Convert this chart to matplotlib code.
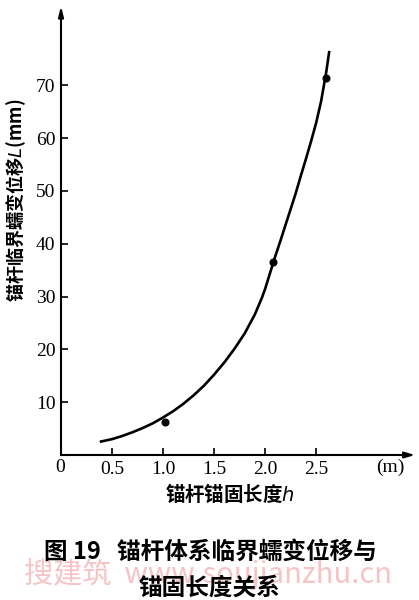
import matplotlib
matplotlib.use("Agg")
import matplotlib.pyplot as plt

# curve (anchor length h in m, creep displacement L in mm)
curve_h = [0.38, 0.5, 0.6, 0.7, 0.8, 0.9, 1.0, 1.1, 1.2, 1.3, 1.4, 1.5, 1.6, 1.7, 1.8, 1.9,
           1.97, 2.0, 2.05, 2.1, 2.15, 2.2, 2.25, 2.3, 2.35, 2.4, 2.45, 2.5, 2.55, 2.6, 2.63]
curve_L = [2.5, 3.0, 3.6, 4.3, 5.1, 6.0, 7.1, 8.3, 9.7, 11.3, 13.1, 15.2, 17.5, 20.1, 23.0, 26.6,
           29.8, 31.4, 34.5, 37.6, 40.5, 43.5, 46.5, 49.5, 52.8, 56.0, 59.3, 62.8, 67.0, 72.5, 76.5]
# measured points
pts_h = [1.02, 2.08, 2.6]
pts_L = [6.3, 36.5, 71.3]

xticks = [0.5, 1.0, 1.5, 2.0, 2.5]
yticks = [10, 20, 30, 40, 50, 60, 70]

num_font = ["Liberation Serif", "Noto Sans CJK SC"]
cjk_font = ["Noto Sans CJK SC", "DejaVu Sans"]

fig = plt.figure(figsize=(4.19, 6.0), dpi=100)
ax = fig.add_axes([61 / 419, 145 / 600, 354 / 419, 449 / 600])
ax.set_xlim(0, 3.47)
ax.set_ylim(0, 85)

ax.plot(curve_h, curve_L, color="black", lw=1.9, solid_capstyle="butt", solid_joinstyle="round")
ax.plot(pts_h, pts_L, "o", color="black", ms=4.8)

for s in ["top", "right", "left", "bottom"]:
    ax.spines[s].set_visible(False)
# axes with arrows
ax.annotate("", xy=(3.47, 0), xytext=(0, 0),
            arrowprops=dict(arrowstyle="-|>,head_length=0.6,head_width=0.18", color="black", lw=1.5,
                            shrinkA=0, shrinkB=0))
ax.annotate("", xy=(0, 85), xytext=(0, 0),
            arrowprops=dict(arrowstyle="-|>,head_length=0.6,head_width=0.15", color="black", lw=1.5,
                            shrinkA=0, shrinkB=0))

ax.set_xticks(xticks)
ax.set_xticklabels(["0.5", "1.0", "1.5", "2.0", "2.5"])
ax.set_yticks(yticks)
ax.tick_params(axis="x", direction="in", length=5, width=1.2, pad=4, labelsize=14)
ax.tick_params(axis="y", direction="in", length=5, width=1.2, pad=4, labelsize=14)
for lab in ax.get_xticklabels() + ax.get_yticklabels():
    lab.set_family(num_font)

fig.text(60 / 419, 1 - 467 / 600, "0", family=num_font, fontsize=14, ha="center", va="center")
fig.text(390 / 419, 1 - 467 / 600, "(m)", family=num_font, fontsize=14, ha="center", va="center")

fig.text(230 / 419, 1 - 493 / 600, "锚杆锚固长度$\\mathit{h}$", family=cjk_font, fontsize=14,
         fontweight="bold", ha="center", va="center")
fig.text(16 / 419, 1 - 200 / 600, "锚杆临界蠕变位移$\\mathit{L}$(mm)", family=cjk_font, fontsize=13,
         fontweight="bold", ha="center", va="center", rotation=90)

# watermark, sits behind the caption as in the scan
fig.text(208 / 419, 1 - 574 / 600, "搜建筑  www.soujianzhu.cn", family=cjk_font, fontsize=21,
         color="#f6c4c6", ha="center", va="center", zorder=0)

fig.text(210 / 419, 1 - 552 / 600, "图 19   锚杆体系临界蠕变位移与", family=cjk_font, fontsize=17,
         fontweight="bold", ha="center", va="center", zorder=2)
fig.text(209 / 419, 1 - 588 / 600, "锚固长度关系", family=cjk_font, fontsize=17,
         fontweight="bold", ha="center", va="center", zorder=2)

fig.savefig("out.png", dpi=100)
